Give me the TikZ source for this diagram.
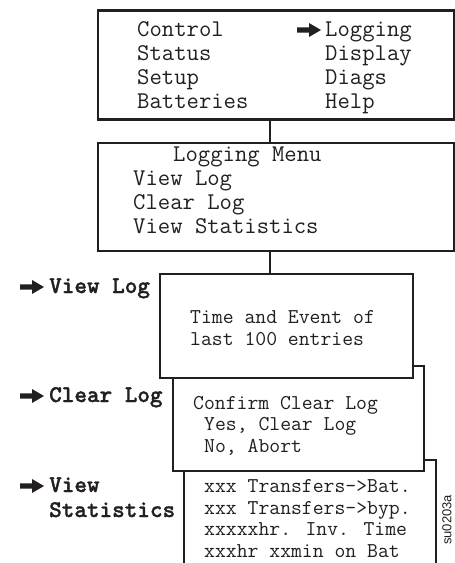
\documentclass[tikz,border=0pt]{standalone}
\usepackage{fontspec}
\setmainfont{Liberation Serif}
\newfontfamily\monofnt{Latin Modern Mono}
\newfontfamily\monobfnt{lmmonolt10-bold.otf}[FakeBold=1.3]
\newfontfamily\sansfnt{Liberation Sans}
\definecolor{ink}{RGB}{35,31,32}
\tikzset{
  bigbox/.style={draw=ink, line width=2.6pt, fill=white, inner sep=0pt, anchor=north west},
  smallbox/.style={draw=ink, line width=1.8pt, fill=white, inner sep=0pt, anchor=north west},
  menutxt/.style={anchor=base west, inner sep=0pt, text=ink, font=\monofnt\fontsize{24}{24}\selectfont},
  subtxt/.style={anchor=base west, inner sep=0pt, text=ink, font=\monofnt\fontsize{21.1}{21}\selectfont},
  labtxt/.style={anchor=base west, inner sep=0pt, text=ink, font=\monobfnt\fontsize{24}{24}\selectfont},
  link/.style={draw=ink, line width=1.3pt},
  fatarrow/.style={fill=ink, draw=none}
}
\newcommand{\fatarr}[2]{%
  \fill[fatarrow] (#1,#2-2.6) -- (#1+12,#2-2.6) -- (#1+12,#2-7) -- (#1+24,#2)
    -- (#1+12,#2+7) -- (#1+12,#2+2.6) -- (#1,#2+2.6) -- cycle;}
\begin{document}
\begin{tikzpicture}[x=1pt,y=-1pt]
\useasboundingbox (0,0) rectangle (455,563);
\clip (0,0) rectangle (455,563);
% boxes
\node[bigbox, minimum width=356pt, minimum height=109pt] (b1) at (96.5,9) {};
\node[bigbox, minimum width=356pt, minimum height=108pt] (b2) at (96.5,141.5) {};
\node[smallbox, minimum width=252pt, minimum height=140pt] (b5) at (183,459) {};
\node[smallbox, minimum width=251pt, minimum height=105pt] (b4) at (172,365) {};
\node[smallbox, minimum width=253pt, minimum height=104pt] (b3) at (159,273) {};
% connectors
\coordinate (cx) at (270,0);
\draw[link] (b1.south -| cx) -- (b2.north -| cx);
\draw[link] (b2.south -| cx) -- (b3.north -| cx);
% main menu
\node[menutxt] (m1) at (137,36) {Control};
\node[menutxt] (m2) at (137,60) {Status};
\node[menutxt] (m3) at (137,84) {Setup};
\node[menutxt] (m4) at (137,108) {Batteries};
\node[menutxt] (m5) at (325,36) {Logging};
\node[menutxt] (m6) at (325,60) {Display};
\node[menutxt] (m7) at (325,84) {Diags};
\node[menutxt] (m8) at (325,108) {Help};
\fatarr{297}{30}
% logging menu
\node[menutxt] (l0) at (173,161) {Logging Menu};
\node[menutxt] (l1) at (133,185) {View Log};
\node[menutxt] (l2) at (133,209) {Clear Log};
\node[menutxt] (l3) at (133,233) {View Statistics};
% view log
\node[subtxt] (v1) at (190,323) {Time and Event of};
\node[subtxt] (v2) at (190,345) {last 100 entries};
% clear log
\node[subtxt] (c1) at (193,409) {Confirm Clear Log};
\node[subtxt] (c2) at (204,430) {Yes, Clear Log};
\node[subtxt] (c3) at (204,452) {No, Abort};
% statistics
\node[subtxt] (s1) at (204,492) {xxx Transfers->Bat.};
\node[subtxt] (s2) at (204,514) {xxx Transfers->byp.};
\node[subtxt] (s3) at (204,535) {xxxxxhr. Inv. Time};
\node[subtxt] (s4) at (204,557) {xxxhr xxmin on Bat};
% left labels
\fatarr{20}{287}
\node[labtxt] (t1) at (49,293) {View Log};
\fatarr{20}{396}
\node[labtxt] (t2) at (49,402) {Clear Log};
\fatarr{20}{486}
\node[labtxt] (t3) at (49,492) {View};
\node[labtxt] (t4) at (49,517) {Statistics};
% figure id
\node[rotate=90, inner sep=0pt, text=ink, font=\sansfnt\fontsize{13}{14}\selectfont] (id) at (447,520) {su0203a};
\end{tikzpicture}
\end{document}
